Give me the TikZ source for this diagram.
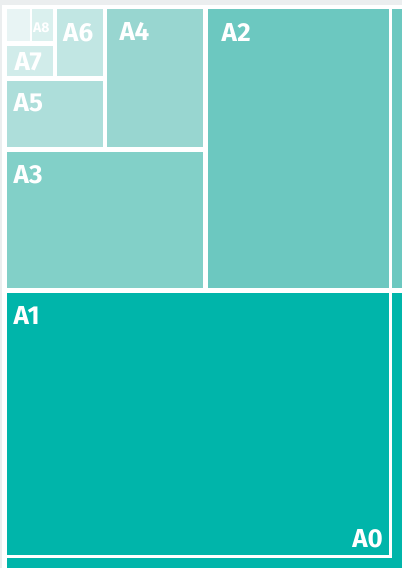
\documentclass[tikz,border=0pt]{standalone}
\usepackage{fontspec}
\setmainfont{Fira Sans}

\definecolor{pagegray}{RGB}{235,238,239}
\definecolor{sheetA1}{RGB}{0,181,170}
\definecolor{sheetA2}{RGB}{108,200,192}
\definecolor{sheetA3}{RGB}{130,208,200}
\definecolor{sheetA4}{RGB}{152,214,208}
\definecolor{sheetA5}{RGB}{173,222,218}
\definecolor{sheetA6}{RGB}{193,230,227}
\definecolor{sheetA7}{RGB}{209,236,234}
\definecolor{sheetA8}{RGB}{218,240,238}
\definecolor{sheetrest}{RGB}{232,244,244}

\tikzset{
	sizelabel/.style={text=white, font=\bfseries\fontsize{26}{26}\selectfont, inner sep=0pt, anchor=base west},
	smalllabel/.style={sizelabel, font=\bfseries\fontsize{14}{14}\selectfont}
}

\begin{document}
\begin{tikzpicture}[x=1pt, y=-1pt]
		\useasboundingbox (0,0) rectangle (402,568);
		
		% Page
		\fill[pagegray] (0,0) rectangle (402,568);
		\fill[white] (2.3,5) rectangle (402,568);
		
		% Sheets
		\fill[sheetA1] (6.7,292.7) rectangle (402,568);
		\fill[sheetA2] (208,9.3) rectangle (402,288);
		\fill[sheetA3] (6.7,151.7) rectangle (203.3,288);
		\fill[sheetA4] (107.3,9.3) rectangle (203.3,146.7);
		\fill[sheetA5] (6.7,80.7) rectangle (102.7,146.7);
		\fill[sheetA6] (57.3,9.3) rectangle (102.7,76);
		\fill[sheetA7] (6.7,45.7) rectangle (53.3,76);
		\fill[sheetA8] (31.7,9.3) rectangle (53.3,40.7);
		\fill[sheetrest] (6.7,9.3) rectangle (29.5,40.7);
		
		% A0 frame
		\draw[white, line width=3pt] (6.7,556.5) -| (390.5,5);
		
		% Labels
		\node[sizelabel] (a1) at (13.5,324) {A1};
		\node[sizelabel] (a2) at (221.5,41) {A2};
		\node[sizelabel] (a3) at (13.5,183.5) {A3};
		\node[sizelabel] (a4) at (119.5,40.7) {A4};
		\node[sizelabel] (a5) at (13.5,111.7) {A5};
		\node[sizelabel] (a6) at (63,41.3) {A6};
		\node[sizelabel] (a7) at (14.5,70.7) {A7};
		\node[smalllabel] (a8) at (33,32.7) {A8};
		\node[sizelabel, anchor=base east] (a0) at (383,547.3) {A0};
	\end{tikzpicture}
\end{document}
